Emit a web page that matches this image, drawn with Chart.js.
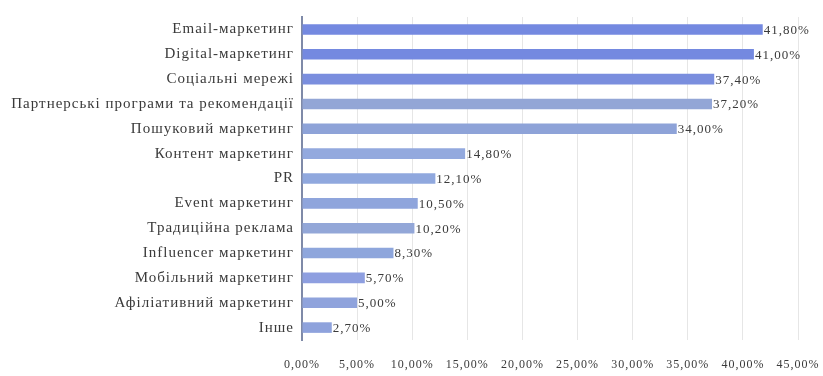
<!DOCTYPE html>
<html>
<head>
<meta charset="utf-8">
<script src="https://cdn.jsdelivr.net/npm/chart.js@4.4.1/dist/chart.umd.min.js"></script>
<style>
  html, body { margin: 0; padding: 0; background: #fff; }
  #wrap { width: 823px; height: 376px; }
</style>
</head>
<body>
<div id="wrap"><canvas id="chart"></canvas></div>
<script>
// categories and values
const categories = [
    'Email-маркетинг',
    'Digital-маркетинг',
    'Соціальні мережі',
    'Партнерські програми та рекомендації',
    'Пошуковий маркетинг',
    'Контент маркетинг',
    'PR',
    'Event маркетинг',
    'Традиційна реклама',
    'Influencer маркетинг',
    'Мобільний маркетинг',
    'Афіліативний маркетинг',
    'Інше'
];
const shares = [41.8, 41.0, 37.4, 37.2, 34.0, 14.8, 12.1, 10.5, 10.2, 8.3, 5.7, 5.0, 2.7];
const barColors = [
    '#7489e0', '#7489e0', '#7a8ede', '#93a6d6', '#8ea3d8', '#93a9de', '#90a8de',
    '#8fa5dc', '#93a7d8', '#8ea6dc', '#8e9fe0', '#8fa3dc', '#8ea2dc'
];

const pct = v => v.toFixed(2).replace('.', ',') + '%';

// the original text is stretched wide, so spread the letters a bit
const wideText = {
    id: 'wideText',
    beforeInit(chart) { chart.ctx.letterSpacing = '1px'; },
    beforeLayout(chart) { chart.ctx.letterSpacing = '1px'; },
    beforeDraw(chart) { chart.ctx.letterSpacing = '1px'; }
};

// draws the value text just past the end of each bar
const valueLabels = {
    id: 'valueLabels',
    afterDatasetsDraw(chart) {
        const ctx = chart.ctx;
        const meta = chart.getDatasetMeta(0);
        ctx.save();
        ctx.font = '13px "Liberation Serif"';
        ctx.fillStyle = '#3a3a3a';
        ctx.textBaseline = 'middle';
        meta.data.forEach((bar, i) => {
            ctx.fillText(pct(shares[i]), bar.x + 1, bar.y + 1);
        });
        ctx.restore();
    }
};

new Chart(document.getElementById('chart'), {
    type: 'bar',
    data: {
        labels: categories,
        datasets: [{
            data: shares,
            backgroundColor: barColors,
            borderWidth: 0,
            categoryPercentage: 0.85,
            barPercentage: 0.5
        }]
    },
    plugins: [wideText, valueLabels],
    options: {
        indexAxis: 'y',
        responsive: true,
        maintainAspectRatio: false,
        animation: false,
        layout: { padding: { top: 17, right: 25, bottom: 0, left: 0 } },
        plugins: {
            legend: { display: false },
            tooltip: { enabled: false }
        },
        scales: {
            x: {
                min: 0,
                max: 45,
                ticks: {
                    stepSize: 5,
                    padding: 18,
                    maxRotation: 0,
                    color: '#3a3a3a',
                    font: { family: 'Liberation Serif', size: 12 },
                    callback: v => pct(v)
                },
                grid: { color: '#e6e6e6', drawTicks: false },
                border: { display: false },
                afterFit(scale) {
                    scale.height = 36;
                    scale.paddingRight = 0;
                    scale.paddingLeft = 0;
                }
            },
            y: {
                ticks: {
                    color: '#3a3a3a',
                    padding: 0,
                    font: { family: 'Liberation Serif', size: 15 }
                },
                grid: { display: false },
                border: { display: true, color: '#7f8aa8', width: 2 },
                afterFit(scale) { scale.width = 302; }
            }
        }
    }
});
</script>
</body>
</html>
